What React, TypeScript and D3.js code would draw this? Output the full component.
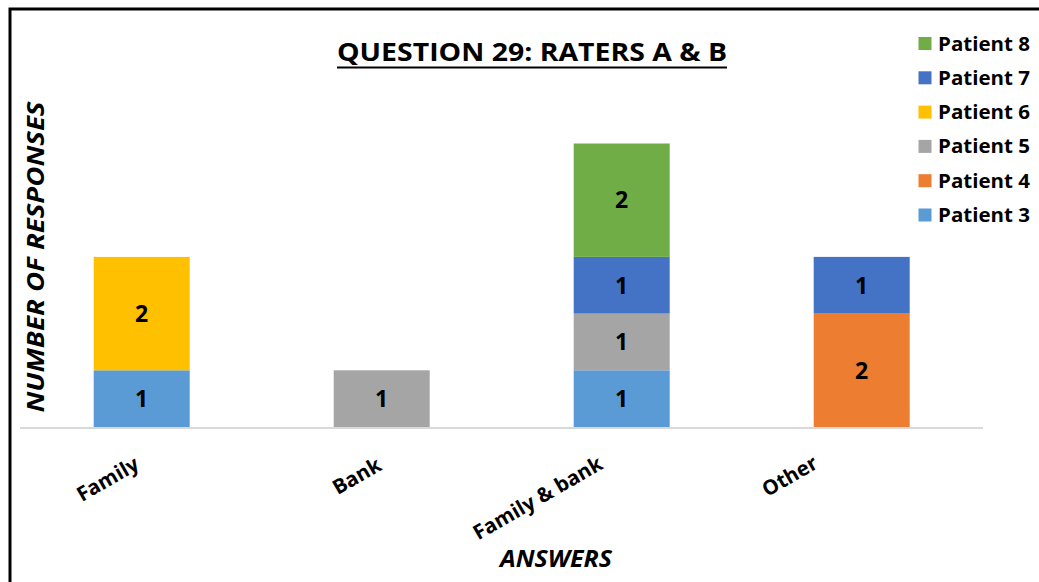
import React from "react";
import * as d3 from "d3";

const categories = ["Family", "Bank", "Family & bank", "Other"];
const seriesNames = ["Patient 3", "Patient 4", "Patient 5", "Patient 6", "Patient 7", "Patient 8"];
const patient3 = [1, 0, 1, 0];
const patient4 = [0, 0, 0, 2];
const patient5 = [0, 1, 1, 0];
const patient6 = [2, 0, 0, 0];
const patient7 = [0, 0, 1, 1];
const patient8 = [0, 0, 2, 0];
const seriesColors = ["#5B9BD5", "#ED7D31", "#A5A5A5", "#FFC000", "#4472C4", "#70AD47"];
const legendOrder = ["Patient 8", "Patient 7", "Patient 6", "Patient 5", "Patient 4", "Patient 3"];
const yTicks = [0, 1, 2, 3, 4, 5, 6];

// layout-only offsets of rotated category labels (center relative to band center)
const labelOffsets: [number, number][] = [[-34, 52], [-25, 49], [-84, 71], [-72, 49]];

const W = 1039, H = 582;
const FONT = "'Open Sans', 'DejaVu Sans', sans-serif";

export default function App() {
  const allSeries = [patient3, patient4, patient5, patient6, patient7, patient8];
  const table = categories.map((c, i) => {
    const row: any = { cat: c };
    seriesNames.forEach((s, j) => (row[s] = allSeries[j][i]));
    return row;
  });
  const stack = d3.stack<any>().keys(seriesNames)(table);

  const x = d3.scaleBand<string>().domain(categories).range([21.7, 981.7]).paddingInner(0.6).paddingOuter(0.3);
  const y = d3.scaleLinear().domain([0, 6]).range([427, 427 - 6 * 56.7]);
  const color = d3.scaleOrdinal<string, string>().domain(seriesNames).range(seriesColors);

  return (
    <svg width={W} height={H} style={{ position: "absolute", left: 0, top: 0, background: "#fff" }} fontFamily={FONT}>
      <rect x={0} y={0} width={W} height={H} fill="#fff" />
      {/* border */}
      <path d={`M10,${H} L10,9 L${W},9`} fill="none" stroke="#000" strokeWidth={3} />

      {/* title */}
      <text x={532} y={61} textAnchor="middle" fontWeight="bold" fontSize={25.5} textLength={390} lengthAdjust="spacingAndGlyphs" fill="#000">
        QUESTION 29: RATERS A &amp; B
      </text>
      <line x1={337} x2={727} y1={67.5} y2={67.5} stroke="#000" strokeWidth={2} />

      {/* bars */}
      {stack.map((layer) => (
        <g key={layer.key} fill={color(layer.key)}>
          {layer.map((d, i) => {
            const v = d[1] - d[0];
            if (v <= 0) return null;
            return (
              <rect key={i} x={x(categories[i])} width={x.bandwidth()} y={y(d[1])} height={y(d[0]) - y(d[1])} />
            );
          })}
        </g>
      ))}
      {/* value labels */}
      {stack.map((layer) => (
        <g key={"l" + layer.key}>
          {layer.map((d, i) => {
            const v = d[1] - d[0];
            if (v <= 0) return null;
            return (
              <text key={i} x={(x(categories[i]) as number) + x.bandwidth() / 2} y={(y(d[0]) + y(d[1])) / 2} dy="0.36em"
                textAnchor="middle" fontWeight="bold" fontSize={23} fill="#000">
                {v}
              </text>
            );
          })}
        </g>
      ))}

      {/* baseline */}
      <line x1={20} x2={983} y1={y(yTicks[0]) + 1} y2={y(yTicks[0]) + 1} stroke="#D9D9D9" strokeWidth={2} />

      {/* category labels */}
      {categories.map((c, i) => {
        const cx = (x(c) as number) + x.bandwidth() / 2 + labelOffsets[i][0];
        const cy = y(0) + labelOffsets[i][1];
        return (
          <text key={c} transform={`translate(${cx},${cy}) rotate(-30)`} textAnchor="middle" dy="0.35em"
            fontWeight="bold" fontSize={20.5} fill="#000">
            {c}
          </text>
        );
      })}

      {/* axis titles */}
      <text x={556} y={567} textAnchor="middle" fontWeight="bold" fontStyle="italic" fontSize={23}
        textLength={112} lengthAdjust="spacingAndGlyphs" fill="#000">ANSWERS</text>
      <text transform={`translate(44,257) rotate(-90)`} textAnchor="middle" fontWeight="bold" fontStyle="italic"
        fontSize={24} textLength={311} lengthAdjust="spacingAndGlyphs" fill="#000">NUMBER OF RESPONSES</text>

      {/* legend */}
      {legendOrder.map((s, i) => {
        const cy = 43.5 + i * 34.3;
        return (
          <g key={s}>
            <rect x={918.5} y={cy - 6.5} width={13} height={13} fill={color(s)} />
            <text x={938} y={cy} dy="0.36em" fontWeight="bold" fontSize={19.5} fill="#000"
              textLength={92} lengthAdjust="spacingAndGlyphs">{s}</text>
          </g>
        );
      })}
    </svg>
  );
}
